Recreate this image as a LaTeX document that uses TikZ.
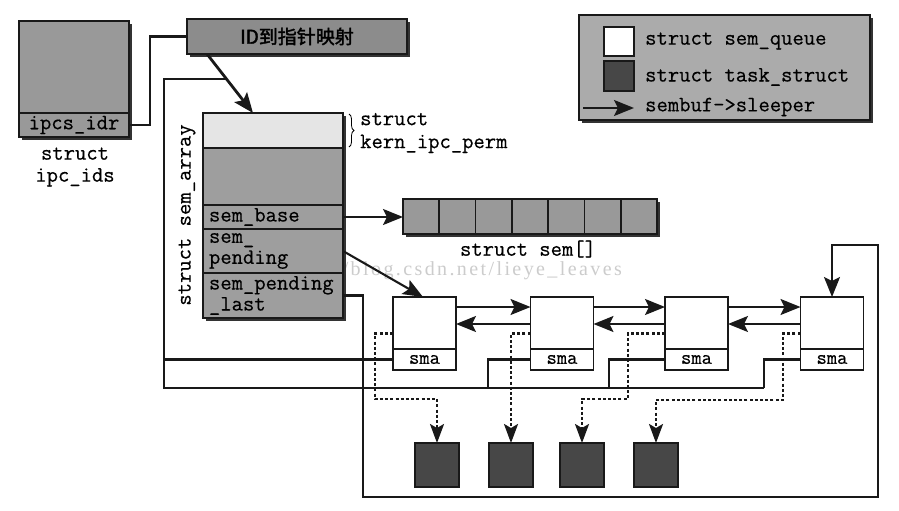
\documentclass[tikz,border=0pt]{standalone}
\usepackage{fontspec}
\setmonofont{Latin Modern Mono}[FakeBold=0.5]
\newfontfamily\cjk{Noto Sans CJK SC}[FakeBold=2]
\newfontfamily\wmfont{Liberation Serif}[LetterSpace=12]
\usetikzlibrary{arrows.meta,shadows,decorations.pathreplacing,calc}
\begin{document}
\begin{tikzpicture}[x=1pt,y=-1pt,
  line/.style={draw=black!90,line width=2.1pt},
  arr/.style={line,-{Stealth[length=20pt,width=16pt,inset=4pt]}},
  dotarr/.style={draw=black!90,line width=2.2pt,dash pattern=on 3pt off 2.2pt,-{Stealth[length=19pt,width=14pt,inset=4pt]}},
  box/.style={draw=black!90,line width=1.6pt,inner sep=0pt,outer sep=0pt},
  shad/.style={drop shadow={shadow xshift=3pt,shadow yshift=-3pt,fill=black!80,opacity=1}},
  mono/.style={font=\ttfamily\fontsize{22}{22}\selectfont},
  rowtext/.style={font=\ttfamily\fontsize{22}{21}\selectfont,text width=128pt,align=left,inner xsep=6pt,inner ysep=0pt},
]
\useasboundingbox[fill=white] (0,0) rectangle (899,511);

% watermark (visible part)
\node[font=\wmfont\fontsize{20}{20}\selectfont,text=black!20,anchor=base east,inner sep=0pt] (wm) at (622,275) {/blog.csdn.net/lieye\_leaves};

% ipc_ids
\node[box,shad,fill=black!40,minimum width=110pt,minimum height=116pt] (ipcids) at (74,79) {};
\node[box,fill=black!40,minimum width=110pt,minimum height=24pt,mono,anchor=south] (ipcidr) at (ipcids.south) {ipcs\_idr};
\node[mono,align=center] (ipclbl) at (75,167) {struct\\ipc\_ids};

% ID map box
\node[box,shad,fill=black!45,minimum width=220pt,minimum height=35pt,font=\cjk\fontsize{19}{19}\selectfont] (idmap) at (297,36.5) {ID到指针映射};

% sem_array
\node[box,shad,fill=black!38,minimum width=140pt,minimum height=205pt] (sa) at (273,215.5) {};
\node[box,fill=black!10,minimum width=140pt,minimum height=35pt] (perm) at (273,130.5) {};
\node[box,fill=black!38,minimum width=140pt,minimum height=57pt] (blank) at (273,176.5) {};
\node[box,fill=black!38,rowtext,minimum height=24pt] (base) at (273,217) {sem\_base};
\node[box,fill=black!38,rowtext,minimum height=44pt] (pend) at (273,251) {sem\_\\pending};
\node[box,fill=black!38,rowtext,minimum height=45pt] (last) at (273,295.5) {sem\_pending\\\_last};
\node[mono,rotate=90] (salbl) at (187,215) {struct sem\_array};
\draw[decorate,decoration={brace,amplitude=5pt},line width=0.8pt] ([xshift=6pt,yshift=-1pt]perm.north east) -- ([xshift=6pt,yshift=1pt]perm.south east);
\node[font=\ttfamily\fontsize{22}{23}\selectfont,align=left,anchor=west,inner sep=0pt] (permlbl) at (360,133) {struct\\kern\_ipc\_perm};

% sem[]
\node[box,shad,fill=black!40,minimum width=254pt,minimum height=35pt] (semarr) at (530,216.5) {};
\foreach \i in {0,...,6} {
  \node[box,fill=black!40,minimum width=36.29pt,minimum height=35pt] (c\i) at (403+36.29*\i+18.14,216.5) {};
}
\node[mono] (semlbl) at (528,249) {struct sem[]};

% sem_queue boxes
\foreach \n/\x in {1/424.5,2/562,3/696.5,4/832} {
  \node[box,fill=white,minimum width=63pt,minimum height=73pt] (q\n) at (\x,333.5) {};
  \node[box,fill=white,minimum width=63pt,minimum height=21pt,anchor=south,font=\ttfamily\fontsize{20}{20}\selectfont] (s\n) at (q\n.south) {sma};
}

% task_struct boxes
\foreach \n/\x in {1/437,2/511,3/582,4/656} {
  \node[box,fill=black!72,minimum width=44pt,minimum height=44pt] (t\n) at (\x,465) {};
}

% legend
\node[box,shad,fill=black!33,minimum width=291pt,minimum height=105pt] (leg) at (724.5,67.5) {};
\node[box,fill=white,minimum width=30pt,minimum height=29pt] (lq) at (619,41.5) {};
\node[box,fill=black!72,minimum width=30pt,minimum height=30pt] (lt) at (619,76) {};
\node[mono,anchor=west,inner sep=0pt] (lqt) at (645,41) {struct sem\_queue};
\node[mono,anchor=west,inner sep=0pt] (ltt) at (645,77) {struct task\_struct};
\node[mono,anchor=west,inner sep=0pt] (lat) at (645,107) {sembuf->sleeper};
\coordinate (la) at (583,108);
\coordinate (lb) at (634,108);
\draw[arr] (la) -- (lb);

% connectors
\draw[line] (ipcidr.east) -| (150,36.5) -- (idmap.west);
\coordinate (idsrc) at ([xshift=20pt]idmap.south west);
\coordinate (satgt) at ([xshift=50pt]sa.north west);
\draw[arr,line width=2.8pt] (idsrc) -- (satgt);
\coordinate (j) at ($(idsrc)!0.424!(satgt)$);
\coordinate (bx) at (164,0);
\draw[line] (j) -| (164,388) -- (764,388);
\draw[line] (s1.west) -- (s1.west -| bx);
\draw[line] (s2.west) -| (488,388);
\draw[line] (s3.west) -| (609,388);
\draw[line] (s4.west) -| (764,388);

\draw[arr] (last.east) -| (363,497) -| (878,245) -| (q4.north);
\draw[arr] (base.east) -- (base.east -| semarr.west);
\draw[arr] (pend.east) -- ([xshift=30pt]q1.north west);

\coordinate (fy) at (0,307);
\coordinate (by) at (0,324);
\foreach \a/\b in {1/2,2/3,3/4} {
  \draw[arr] (q\a.east |- fy) -- (q\b.west |- fy);
  \draw[arr] (q\b.west |- by) -- (q\a.east |- by);
}

\draw[dotarr] (q1.west) -| (375,399) -| (t1.north);
\draw[dotarr] (q2.west) -| (t2.north);
\draw[dotarr] (q3.west) -| (628,399) -| (t3.north);
\draw[dotarr] (q4.west) -| (783,400) -| (t4.north);
\end{tikzpicture}
\end{document}
